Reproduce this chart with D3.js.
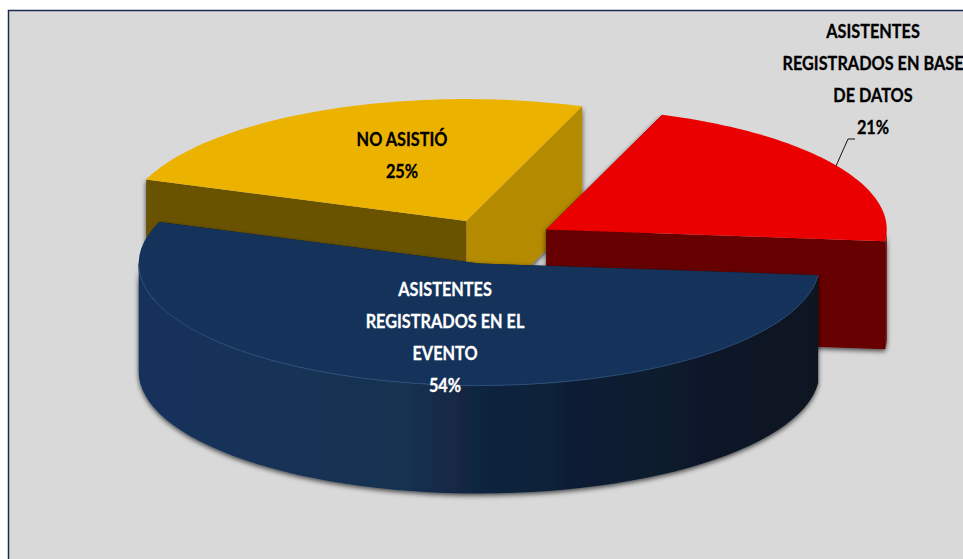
<!DOCTYPE html>
<html>
<head>
<meta charset="utf-8">
<script src="https://cdn.jsdelivr.net/npm/d3@7"></script>
<style>
  html, body { margin: 0; padding: 0; background: #fff; }
  svg { display: block; }
  text { font-family: Lato, "Open Sans", sans-serif; font-weight: 700; font-size: 19.5px; text-anchor: middle; stroke-width: 0.3px; }
</style>
</head>
<body>
<div id="chart"></div>
<script>
// Data
const categories = ["ASISTENTES REGISTRADOS EN EL EVENTO", "NO ASISTIÓ", "ASISTENTES REGISTRADOS EN BASE DE DATOS"];
const values = [54, 25, 21];
const labelLines = [
	["ASISTENTES", "REGISTRADOS EN EL", "EVENTO"],
	["NO ASISTIÓ"],
	["ASISTENTES", "REGISTRADOS EN BASE", "DE DATOS"]
];
const topColors = ["#15325a", "#ecb200", "#ea0000"];
const startFaceColors = ["#0a1825", "#6b5200", "#660000"];
const endFaceColors = ["#0a1825", "#b38a00", "#660000"];
const labelColors = ["#fff", "#000", "#000"];

// Layout
const width = 963, height = 559;
const cx = 493, cy = 241.5;
const rx = 340.5, ry = 122, depth = 108;
const explode = 0.185;
const firstAngle = 95.5 * Math.PI / 180;
const labelPos = [{x: 445, y: 296}, {x: 402, y: 146}, {x: 873, y: 38}];
const lineStep = 32;
const textSqueeze = 0.835; // the original font is narrower than Lato

const svg = d3.select("#chart").append("svg")
	.attr("width", width)
	.attr("height", height);

const defs = svg.append("defs");

let sideGrad = defs.append("linearGradient")
	.attr("id", "blueSide")
	.attr("gradientUnits", "userSpaceOnUse")
	.attr("x1", 137).attr("x2", 818).attr("y1", 0).attr("y2", 0);
[[0, "#16335c"], [0.4, "#153050"], [0.5, "#11253f"], [0.7, "#0c1c30"], [1, "#07151f"]].forEach(s => {
	sideGrad.append("stop").attr("offset", s[0]).attr("stop-color", s[1]);
});

let shadow = defs.append("filter")
	.attr("id", "shadow")
	.attr("x", "-5%").attr("y", "-5%").attr("width", "110%").attr("height", "115%");
shadow.append("feDropShadow")
	.attr("dx", 0).attr("dy", 2)
	.attr("stdDeviation", 2.5)
	.attr("flood-color", "#000")
	.attr("flood-opacity", 0.7);

// Panel
svg.append("rect")
	.attr("x", 8.5).attr("y", 10.5)
	.attr("width", width + 10).attr("height", height + 10)
	.attr("fill", "#d9d9d9")
	.attr("stroke", "#1c2b52")
	.attr("stroke-width", 1.5);

const pie = d3.pie()
	.sort(null)
	.startAngle(firstAngle)
	.endAngle(firstAngle + 2 * Math.PI);
const arcs = pie(values);

function project(a, c, dz = 0) {
	return [c.x + rx * Math.sin(a), c.y - ry * Math.cos(a) + dz];
}

function arcPoints(a0, a1, c, dz = 0) {
	return d3.range(0, 61).map(i => project(a0 + (a1 - a0) * i / 60, c, dz));
}

const line = d3.line();

// visible part of the rim (front half of the ellipse)
function frontSpan(a0, a1) {
	for (const shift of [0, 2 * Math.PI]) {
		let s = Math.max(a0, Math.PI / 2 + shift);
		let e = Math.min(a1, 3 * Math.PI / 2 + shift);
		if (e > s) return [s, e];
	}
	return null;
}

function face(c, p) {
	let a = [c.x, c.y], b = p;
	return line([a, b, [b[0], b[1] + depth], [a[0], a[1] + depth]]) + "Z";
}

// yellow at the back, then red, blue in front
[1, 2, 0].forEach(i => {
	let d = arcs[i];
	let mid = (d.startAngle + d.endAngle) / 2;
	let c = {
		x: cx + explode * rx * Math.sin(mid),
		y: cy - explode * ry * Math.cos(mid)
	};

	let g = svg.append("g").attr("class", "slice");
	let body = g.append("g").attr("filter", "url(#shadow)");

	body.append("path")
		.attr("d", face(c, project(d.startAngle, c)))
		.attr("fill", startFaceColors[i]);
	body.append("path")
		.attr("d", face(c, project(d.endAngle, c)))
		.attr("fill", endFaceColors[i]);

	let span = frontSpan(d.startAngle, d.endAngle);
	if (span) {
		let pts = arcPoints(span[0], span[1], c).concat(arcPoints(span[1], span[0], c, depth));
		body.append("path")
			.attr("d", line(pts) + "Z")
			.attr("fill", i === 0 ? "url(#blueSide)" : startFaceColors[i]);
	}

	let top = [[c.x, c.y]].concat(arcPoints(d.startAngle, d.endAngle, c));
	g.append("path")
		.attr("d", line(top) + "Z")
		.attr("fill", topColors[i]);

	// thin highlight along the blue rim
	if (i === 0) {
		g.append("path")
			.attr("d", line(arcPoints(span[0], span[1], c)))
			.attr("fill", "none")
			.attr("stroke", "#2c4c78")
			.attr("stroke-width", 1);
	}
});

// Leader line for the red slice
svg.append("path")
	.attr("d", line([[836, 166], [848, 139], [855, 139]]))
	.attr("fill", "none")
	.attr("stroke", "#111")
	.attr("stroke-width", 1);

// Labels
values.forEach((v, i) => {
	let t = svg.append("text")
		.attr("transform", `translate(${labelPos[i].x},0) scale(${textSqueeze},1)`)
		.attr("fill", labelColors[i])
		.attr("stroke", labelColors[i]);
	labelLines[i].concat([v + "%"]).forEach((s, k) => {
		t.append("tspan")
			.attr("x", 0)
			.attr("y", labelPos[i].y + k * lineStep)
			.text(s);
	});
});
</script>
</body>
</html>
